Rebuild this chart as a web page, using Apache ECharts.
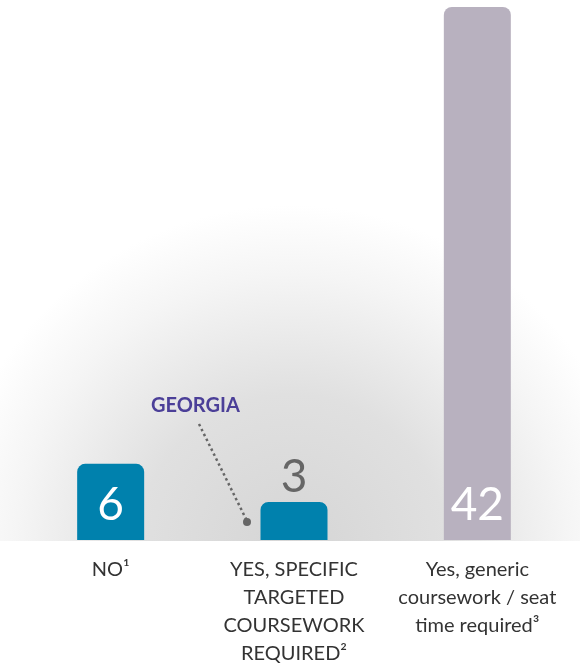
<!DOCTYPE html>
<html>
<head>
<meta charset="utf-8">
<script src="https://cdn.jsdelivr.net/npm/echarts@6/dist/echarts.min.js"></script>
<style>
  html, body { margin: 0; padding: 0; background: #fff; }
  #chart { width: 580px; height: 668px; }
</style>
</head>
<body>
<div id="chart"></div>
<script>
// chart data
const categories = [
  "NO¹",
  "YES, SPECIFIC\nTARGETED\nCOURSEWORK\nREQUIRED²",
  "Yes, generic\ncoursework / seat\ntime required³"
];
const counts = [6, 3, 42];
const barColors = ["#0081ad", "#0081ad", "#b8b1bf"];
const calloutText = "GEORGIA";

const chart = echarts.init(document.getElementById("chart"));

const baseY = 541;

chart.setOption({
  animation: false,
  backgroundColor: "#ffffff",
  grid: { left: 19, right: 11, top: 7, bottom: 668 - baseY },
  xAxis: {
    type: "category",
    data: categories,
    axisLine: { show: false },
    axisTick: { show: false },
    axisLabel: {
      interval: 0,
      margin: 16,
      fontFamily: "Lato",
      fontSize: 20,
      lineHeight: 28,
      color: "#333333",
      align: "center"
    }
  },
  yAxis: {
    type: "value",
    min: 0,
    max: 42,
    show: false,
    splitLine: { show: false }
  },
  graphic: [
    {
      type: "rect",
      z: -10,
      silent: true,
      shape: { x: 0, y: 0, width: 580, height: baseY },
      style: {
        fill: {
          type: "radial",
          x: 292, y: 550, r: 345,
          global: true,
          colorStops: [
            { offset: 0, color: "#d5d5d5" },
            { offset: 0.45, color: "#e0e0e0" },
            { offset: 0.8, color: "#f5f5f5" },
            { offset: 1, color: "#ffffff" }
          ]
        }
      }
    },
    {
      type: "text",
      left: 151,
      top: 396,
      style: {
        text: calloutText,
        fontFamily: "Lato",
        fontWeight: "bold",
        fontSize: 20,
        fill: "#4b3f98"
      }
    },
    {
      type: "line",
      shape: { x1: 199, y1: 424, x2: 247, y2: 521 },
      style: { stroke: "#666666", lineWidth: 2.5, lineDash: [2.5, 3] }
    },
    {
      type: "circle",
      shape: { cx: 247, cy: 522, r: 4 },
      style: { fill: "#666666" }
    }
  ],
  series: [
    {
      type: "bar",
      barWidth: 67,
      data: counts.map((v, i) => ({
        value: v,
        itemStyle: { color: barColors[i], borderRadius: [8, 8, 0, 0] },
        label: v < 5
          ? { position: "top", distance: 2, color: "#666666" }
          : { position: "insideBottom", distance: 12, color: "#ffffff" }
      })),
      label: {
        show: true,
        fontFamily: "Lato",
        fontSize: 46,
        lineHeight: 46
      }
    }
  ]
});
</script>
</body>
</html>
